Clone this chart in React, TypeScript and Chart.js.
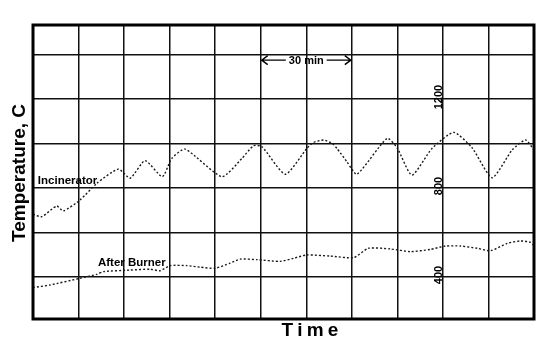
import React, { useEffect, useRef } from "react";
import { Chart, registerables } from "chart.js";

Chart.register(...registerables);

// ---- Data (time in minutes, temperature in °C) ----
const incineratorTimes = [0, 2.9, 7.8, 10, 15.5, 21, 28.1, 32, 36.9, 42.6, 45.7, 50.1, 62.2, 68.8, 72.6, 75.4, 83.1, 90.2, 92.4, 95.7, 98.5, 100.1, 103.4, 106.7, 116.6, 119.9, 124.8, 131.4, 138.6, 144.6, 151.2, 157.8, 162.2, 165];
const incineratorTemps = [682, 671, 719, 697, 746, 821, 885, 844, 923, 851, 933, 975, 851, 933, 990, 986, 862, 978, 1005, 1016, 1001, 978, 918, 862, 1023, 981, 858, 978, 1050, 981, 846, 971, 1016, 971];

const afterBurnerTimes = [0, 5.6, 15.5, 21, 23.2, 32, 38.6, 41.9, 45.2, 50.7, 55.1, 60, 64.9, 68.2, 73.7, 81.4, 85.8, 90.2, 97.9, 105.6, 110.5, 117.7, 124.3, 130.9, 135.8, 140.8, 146.3, 150.7, 156.2, 160.6, 163.8, 165];
const afterBurnerTemps = [352, 364, 394, 412, 424, 431, 435, 428, 451, 451, 444, 439, 462, 480, 478, 470, 484, 499, 494, 487, 529, 526, 514, 524, 539, 539, 529, 518, 551, 562, 556, 541];

const yGridTicks = [400, 600, 800, 1000, 1200, 1400];
const yLabelTicks = [400, 800, 1200];
const xRange = [0, 165];
const xStep = 15;
const yRange = [211, 1533];

const seriesNames = ["Incinerator", "After Burner"];
// annotation anchors in data units
const seriesLabelAnchors = [
  { x: 1.6, y: 818 },
  { x: 21.4, y: 449 },
];
const spanArrow = { from: 75, to: 105, y: 1375, text: "30 min" };
const tickLabelTime = 135;
const xTitle = "Time";
const yTitle = "Temperature, C";

const FONT = '"Liberation Sans", Arial, Helvetica, sans-serif';

const overlayPlugin = {
  id: "overlay",
  afterDraw(chart: any) {
    const { ctx, chartArea: a, scales } = chart;
    const xs = scales.x;
    const ys = scales.y;
    ctx.save();
    ctx.fillStyle = "#000";
    ctx.strokeStyle = "#000";

    // frame
    ctx.lineWidth = 3;
    ctx.strokeRect(a.left, a.top, a.right - a.left, a.bottom - a.top);

    // series labels
    ctx.font = `bold 11.5px ${FONT}`;
    ctx.textAlign = "left";
    ctx.textBaseline = "alphabetic";
    seriesNames.forEach((n, i) => {
      const p = seriesLabelAnchors[i];
      ctx.fillText(n, xs.getPixelForValue(p.x), ys.getPixelForValue(p.y));
    });

    // 30 min arrow
    const ax1 = xs.getPixelForValue(spanArrow.from) + 1;
    const ax2 = xs.getPixelForValue(spanArrow.to) - 1;
    const ay = ys.getPixelForValue(spanArrow.y);
    const cx = (ax1 + ax2) / 2;
    ctx.font = `bold 11px ${FONT}`;
    ctx.textAlign = "center";
    ctx.textBaseline = "middle";
    const tw = ctx.measureText(spanArrow.text).width;
    ctx.fillText(spanArrow.text, cx, ay + 0.5);
    ctx.lineWidth = 1.4;
    ctx.beginPath();
    ctx.moveTo(ax1, ay);
    ctx.lineTo(cx - tw / 2 - 3, ay);
    ctx.moveTo(cx + tw / 2 + 3, ay);
    ctx.lineTo(ax2, ay);
    ctx.moveTo(ax1 + 6, ay - 4.5);
    ctx.lineTo(ax1, ay);
    ctx.lineTo(ax1 + 6, ay + 4.5);
    ctx.moveTo(ax2 - 6, ay - 4.5);
    ctx.lineTo(ax2, ay);
    ctx.lineTo(ax2 - 6, ay + 4.5);
    ctx.stroke();

    // rotated tick labels inside plot
    ctx.font = `bold 11px ${FONT}`;
    ctx.textAlign = "center";
    ctx.textBaseline = "alphabetic";
    const tx = xs.getPixelForValue(tickLabelTime) - 0.5;
    yLabelTicks.forEach((v) => {
      ctx.save();
      ctx.translate(tx, ys.getPixelForValue(v) - 2);
      ctx.rotate(-Math.PI / 2);
      ctx.fillText(String(v), 0, 0);
      ctx.restore();
    });

    // x title with letter spacing
    ctx.font = `bold 19px ${FONT}`;
    ctx.textAlign = "left";
    ctx.textBaseline = "alphabetic";
    const spacing = 4.2;
    const chars = xTitle.split("");
    const widths = chars.map((c) => ctx.measureText(c).width);
    const total = widths.reduce((s, w) => s + w, 0) + spacing * (chars.length - 1);
    let px = xs.getPixelForValue(91.2) - total / 2;
    chars.forEach((c, i) => {
      ctx.fillText(c, px, a.bottom + 17);
      px += widths[i] + spacing;
    });

    // y title
    ctx.save();
    ctx.translate(a.left - 8, (a.top + a.bottom) / 2 + 1);
    ctx.rotate(-Math.PI / 2);
    ctx.textAlign = "center";
    ctx.fillText(yTitle, 0, 0);
    ctx.restore();

    ctx.restore();
  },
};

export default function App() {
  const ref = useRef<HTMLCanvasElement | null>(null);
  useEffect(() => {
    if (!ref.current) return;
    const lineStyle = {
      borderColor: "#1a1a1a",
      borderWidth: 1.4,
      borderDash: [2, 2],
      pointRadius: 0,
      tension: 0.2,
      fill: false,
    };
    const chart = new Chart(ref.current, {
      type: "line",
      data: {
        datasets: [
          {
            label: seriesNames[0],
            data: incineratorTimes.map((t, i) => ({ x: t, y: incineratorTemps[i] })),
            ...lineStyle,
          },
          {
            label: seriesNames[1],
            data: afterBurnerTimes.map((t, i) => ({ x: t, y: afterBurnerTemps[i] })),
            ...lineStyle,
          },
        ],
      },
      options: {
        animation: false,
        responsive: false,
        devicePixelRatio: 1,
        layout: { padding: { left: 33, right: 22, top: 25, bottom: 30 } },
        plugins: { legend: { display: false }, tooltip: { enabled: false } },
        scales: {
          x: {
            type: "linear",
            min: xRange[0],
            max: xRange[1],
            ticks: { display: false, stepSize: xStep },
            grid: { color: "#111", lineWidth: 1.5, drawTicks: false },
            border: { display: false },
          },
          y: {
            type: "linear",
            min: yRange[0],
            max: yRange[1],
            afterBuildTicks: (scale: any) => {
              scale.ticks = yGridTicks.map((v) => ({ value: v }));
            },
            ticks: { display: false },
            grid: { color: "#111", lineWidth: 1.5, drawTicks: false },
            border: { display: false },
          },
        },
      },
      plugins: [overlayPlugin],
    } as any);
    return () => chart.destroy();
  }, []);
  return (
    <div style={{ position: "fixed", left: 0, top: 0, width: 556, height: 349, background: "#fff" }}>
      <canvas ref={ref} width={556} height={349} />
    </div>
  );
}
